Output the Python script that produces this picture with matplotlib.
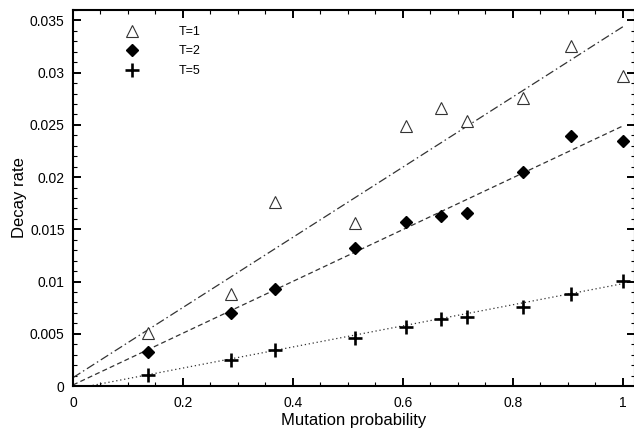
import matplotlib
matplotlib.use("Agg")
import matplotlib.pyplot as plt
from matplotlib.ticker import MultipleLocator, FuncFormatter
from matplotlib.lines import Line2D

plt.rcParams['font.family'] = ['Liberation Sans', 'DejaVu Sans']

# Data
mutation_prob = [0.136, 0.287, 0.367, 0.512, 0.606, 0.670, 0.716, 0.818, 0.905, 1.0]
decay_T1 = [0.0051, 0.0088, 0.01765, 0.0156, 0.0249, 0.0266, 0.0254, 0.0276, 0.0326, 0.0297]
decay_T2 = [0.0033, 0.0070, 0.0093, 0.0132, 0.0157, 0.0163, 0.0166, 0.0205, 0.0239, 0.0235]
decay_T5 = [0.00110, 0.00250, 0.00340, 0.00455, 0.00565, 0.00645, 0.00665, 0.0076, 0.0088, 0.0101]

# Fit lines (endpoints)
fit_x = [0.0, 1.0]
fit_T1 = [0.0008, 0.0344]
fit_T2 = [0.0001, 0.0249]
fit_T5 = [-0.0003, 0.0098]

labels = ['T=1', 'T=2', 'T=5']

fig = plt.figure(figsize=(6.34, 4.30), dpi=100)
ax = fig.add_axes([73/634, 44/430, 562/634, 376/430])

lc = '#333333'
ax.plot(fit_x, fit_T1, color=lc, lw=0.9, dashes=(7, 2.5, 1.2, 2.5))
ax.plot(fit_x, fit_T2, color=lc, lw=0.9, dashes=(4, 2.5))
ax.plot(fit_x, fit_T5, color=lc, lw=0.9, dashes=(1, 2.2))

ax.plot(mutation_prob, decay_T1, linestyle='none', marker='^', ms=8.2,
        mfc='white', mec='#333333', mew=0.8, zorder=3)
ax.plot(mutation_prob, decay_T2, linestyle='none', marker='D', ms=6.2,
        mfc='black', mec='black', zorder=3)
ax.plot(mutation_prob, decay_T5, linestyle='none', marker='+', ms=9.5,
        mec='black', mew=1.9, zorder=3)

ax.set_xlim(0, 1.022)
ax.set_ylim(0, 0.036)
ax.xaxis.set_major_locator(MultipleLocator(0.2))
ax.xaxis.set_minor_locator(MultipleLocator(0.05))
ax.yaxis.set_major_locator(MultipleLocator(0.005))
ax.yaxis.set_minor_locator(MultipleLocator(0.001))
fmt = FuncFormatter(lambda v, p: ('%g' % round(v, 6)))
ax.xaxis.set_major_formatter(fmt)
ax.yaxis.set_major_formatter(fmt)

ax.tick_params(which='both', direction='in', top=True, right=True)
ax.tick_params(which='major', length=6, width=1.4, labelsize=10, pad=6)
ax.tick_params(axis='x', which='major', pad=7.5)
ax.tick_params(which='minor', length=3, width=0.8)
for s in ax.spines.values():
    s.set_linewidth(1.5)

ax.set_xlabel('Mutation probability', fontsize=12, labelpad=2)
ax.set_ylabel('Decay rate', fontsize=12, labelpad=2)

handles = [
    Line2D([], [], linestyle='none', marker='^', ms=8.2, mfc='white', mec='#333333', mew=0.8),
    Line2D([], [], linestyle='none', marker='D', ms=6.2, mfc='black', mec='black'),
    Line2D([], [], linestyle='none', marker='+', ms=9.5, mec='black', mew=1.9),
]
ax.legend(handles, labels, loc='upper left', bbox_to_anchor=(46/562, 1 - 16/376),
          frameon=False, fontsize=9, handlelength=2.0, handletextpad=2.8,
          labelspacing=0.6, borderpad=0, borderaxespad=0)

fig.savefig('out.png', dpi=100)
